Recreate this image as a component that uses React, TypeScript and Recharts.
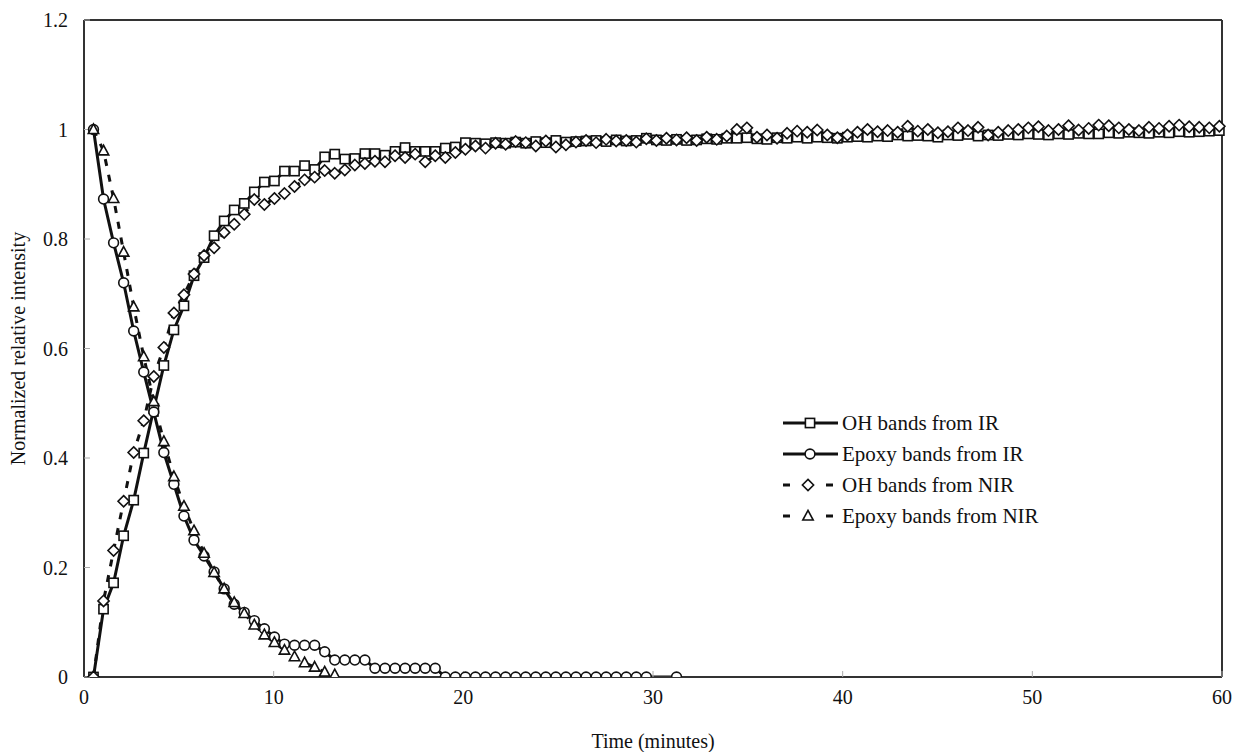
import React from "react";
import { LineChart, Line, XAxis, YAxis, ReferenceLine } from "recharts";

// sampling times (minutes)
const TIMES = [
  0.5, 1.03, 1.56, 2.09, 2.62, 3.15, 3.68, 4.21, 4.74, 5.27,
  5.8, 6.33, 6.86, 7.39, 7.92, 8.45, 8.98, 9.51, 10.04, 10.57,
  11.1, 11.63, 12.16, 12.69, 13.22, 13.75, 14.28, 14.81, 15.34, 15.87,
  16.4, 16.93, 17.46, 17.99, 18.52, 19.05, 19.58, 20.11, 20.64, 21.17,
  21.7, 22.23, 22.76, 23.29, 23.82, 24.35, 24.88, 25.41, 25.94, 26.47,
  27.0, 27.53, 28.06, 28.59, 29.12, 29.65, 30.18, 30.71, 31.24, 31.77,
  32.3, 32.83, 33.36, 33.89, 34.42, 34.95, 35.48, 36.01, 36.54, 37.07,
  37.6, 38.13, 38.66, 39.19, 39.72, 40.25, 40.78, 41.31, 41.84, 42.37,
  42.9, 43.43, 43.96, 44.49, 45.02, 45.55, 46.08, 46.61, 47.14, 47.67,
  48.2, 48.73, 49.26, 49.79, 50.32, 50.85, 51.38, 51.91, 52.44, 52.97,
  53.5, 54.03, 54.56, 55.09, 55.62, 56.15, 56.68, 57.21, 57.74, 58.27,
  58.8, 59.33, 59.86,
];

const OH_IR = [
  0, 0.124, 0.172, 0.258, 0.323, 0.409, 0.49, 0.569, 0.634, 0.678,
  0.733, 0.766, 0.806, 0.833, 0.853, 0.865, 0.886, 0.904, 0.906, 0.924,
  0.924, 0.934, 0.927, 0.95, 0.955, 0.946, 0.947, 0.956, 0.956, 0.953,
  0.96, 0.967, 0.96, 0.96, 0.96, 0.966, 0.968, 0.976, 0.975, 0.974,
  0.976, 0.975, 0.977, 0.975, 0.978, 0.976, 0.98, 0.977, 0.978, 0.979,
  0.98, 0.978, 0.981, 0.979, 0.98, 0.984, 0.981, 0.98, 0.982, 0.98,
  0.981, 0.983, 0.982, 0.984, 0.984, 0.985, 0.983, 0.982, 0.985, 0.984,
  0.986, 0.984, 0.986, 0.985, 0.984, 0.986, 0.987, 0.986, 0.988, 0.987,
  0.99, 0.988, 0.989, 0.988, 0.986, 0.99, 0.989, 0.991, 0.988, 0.99,
  0.989, 0.991, 0.99, 0.992, 0.991, 0.99, 0.992, 0.991, 0.993, 0.992,
  0.992, 0.994, 0.993, 0.995, 0.994, 0.993, 0.995, 0.994, 0.996, 0.995,
  0.996, 0.997, 0.998,
];

const EPOXY_IR = [
  1, 0.873, 0.793, 0.72, 0.632, 0.557, 0.484, 0.41, 0.352, 0.294,
  0.25, 0.221, 0.192, 0.161, 0.133, 0.118, 0.103, 0.088, 0.073, 0.06,
  0.058, 0.058, 0.058, 0.046, 0.031, 0.031, 0.031, 0.031, 0.016, 0.016,
  0.016, 0.016, 0.016, 0.016, 0.016, 0, 0, 0, 0, 0,
  0, 0, 0, 0, 0, 0, 0, 0, 0, 0,
  0, 0, 0, 0, 0, 0, null, null, 0,
];

const OH_NIR = [
  0, 0.139, 0.231, 0.321, 0.41, 0.468, 0.549, 0.602, 0.665, 0.698,
  0.736, 0.77, 0.784, 0.812, 0.827, 0.845, 0.872, 0.863, 0.874, 0.883,
  0.896, 0.908, 0.913, 0.925, 0.92, 0.926, 0.935, 0.938, 0.942, 0.941,
  0.952, 0.949, 0.955, 0.941, 0.952, 0.949, 0.958, 0.964, 0.97, 0.966,
  0.975, 0.973, 0.978, 0.976, 0.97, 0.979, 0.968, 0.972, 0.977, 0.98,
  0.976, 0.982, 0.979, 0.98, 0.977, 0.983, 0.98, 0.984, 0.981, 0.985,
  0.98, 0.986, 0.982, 0.988, 1.0, 1.003, 0.986, 0.99, 0.984, 0.993,
  0.997, 0.995, 0.999, 0.99, 0.985, 0.99, 0.995, 1.0, 0.996, 0.998,
  0.995, 1.006, 0.997, 1.0, 0.994, 0.996, 1.003, 0.998, 1.004, 0.99,
  0.995, 0.998, 1.0, 1.003, 1.005, 0.998, 1.0, 1.007, 0.999, 1.002,
  1.008, 1.007, 1.003, 1.0, 0.998, 1.004, 1.002, 1.006, 1.008, 1.005,
  1.004, 1.003, 1.006,
];

const EPOXY_NIR = [
  1, 0.961, 0.874, 0.776, 0.676, 0.585, 0.503, 0.43, 0.366, 0.312,
  0.267, 0.226, 0.191, 0.161, 0.136, 0.116, 0.095, 0.077, 0.063, 0.049,
  0.037, 0.026, 0.018, 0.009, 0.004, -0.012,
];

const X_TICKS = [0, 10, 20, 30, 40, 50, 60];
const Y_TICKS = [0, 0.2, 0.4, 0.6, 0.8, 1, 1.2];

const LEGEND_ITEMS = [
  { name: "OH bands from IR", marker: "square", dashed: false },
  { name: "Epoxy bands from IR", marker: "circle", dashed: false },
  { name: "OH bands from NIR", marker: "diamond", dashed: true },
  { name: "Epoxy bands from NIR", marker: "triangle", dashed: true },
];

const data = TIMES.map((t, i) => ({
  t,
  ohIR: OH_IR[i] ?? null,
  epIR: EPOXY_IR[i] ?? null,
  ohNIR: OH_NIR[i] ?? null,
  epNIR: EPOXY_NIR[i] ?? null,
}));

const FONT = "'Liberation Serif', 'Times New Roman', serif";
const INK = "#111";

function marker(kind: string, cx: number, cy: number, key?: string) {
  const s = 4.6;
  const common = { fill: "#fff", stroke: INK, strokeWidth: 1.6 };
  if (kind === "square")
    return <rect key={key} x={cx - s} y={cy - s} width={s * 2} height={s * 2} {...common} />;
  if (kind === "circle") return <circle key={key} cx={cx} cy={cy} r={4.9} {...common} />;
  if (kind === "diamond")
    return (
      <polygon
        key={key}
        points={`${cx},${cy - 5.6} ${cx + 5.6},${cy} ${cx},${cy + 5.6} ${cx - 5.6},${cy}`}
        {...common}
      />
    );
  return (
    <polygon
      key={key}
      points={`${cx},${cy - 5.6} ${cx + 5.2},${cy + 4} ${cx - 5.2},${cy + 4}`}
      {...common}
    />
  );
}

const makeDot = (kind: string) => (props: any) => {
  const { cx, cy, value, index } = props;
  if (cx == null || cy == null || value == null || value < 0)
    return <g key={`${kind}-${index}`} />;
  return marker(kind, cx, cy, `${kind}-${index}`);
};

// legend drawn as an overlay so it does not shrink the plot area
const ChartLegend = () => (
  <svg
    width={270}
    height={130}
    style={{ position: "absolute", left: 778, top: 408 }}
  >
    {LEGEND_ITEMS.map((item, i) => {
      const y = 15 + i * 31;
      return (
        <g key={item.name}>
          {item.dashed ? (
            <>
              <line x1={5} x2={12} y1={y} y2={y} stroke={INK} strokeWidth={3} />
              <line x1={48} x2={55} y1={y} y2={y} stroke={INK} strokeWidth={3} />
            </>
          ) : (
            <line x1={5} x2={60} y1={y} y2={y} stroke={INK} strokeWidth={3} />
          )}
          {marker(item.marker, item.dashed ? 30 : 32, y)}
          <text x={64} y={y + 7} fontSize={21} fill="#111" fontFamily={FONT}>
            {item.name}
          </text>
        </g>
      );
    })}
  </svg>
);

export default function App() {
  return (
    <div style={{ position: "absolute", left: 0, top: 0, width: 1233, height: 752, background: "#fff" }}>
      <LineChart
        width={1233}
        height={752}
        data={data}
        margin={{ top: 20, right: 11, bottom: 0, left: 0 }}
        style={{ fontFamily: FONT }}
      >
        <XAxis
          dataKey="t"
          type="number"
          domain={[0, 60]}
          ticks={X_TICKS}
          height={75}
          axisLine={{ stroke: "#333", strokeWidth: 2 }}
          tickLine={{ stroke: "#aaa" }}
          tickSize={-6}
          tickMargin={19}
          tick={{ fill: "#111", fontSize: 20, fontFamily: FONT }}
          label={{
            value: "Time (minutes)",
            position: "insideBottom",
            offset: 4,
            style: { fill: "#111", fontSize: 20, fontFamily: FONT },
          }}
        />
        <YAxis
          type="number"
          domain={[0, 1.2]}
          ticks={Y_TICKS}
          allowDataOverflow
          width={84}
          axisLine={{ stroke: "#333", strokeWidth: 2 }}
          tickLine={{ stroke: "#aaa" }}
          tickSize={-6}
          tickMargin={22}
          tick={{ fill: "#111", fontSize: 20, fontFamily: FONT }}
          label={{
            value: "Normalized relative intensity",
            angle: -90,
            position: "insideLeft",
            offset: 18,
            style: { fill: "#111", fontSize: 20, fontFamily: FONT, textAnchor: "middle" },
          }}
        />
        <ReferenceLine y={1.2} stroke="#333" strokeWidth={2} />
        <ReferenceLine x={60} stroke="#333" strokeWidth={2} />
        <Line
          dataKey="ohIR"
          type="linear"
          stroke={INK}
          strokeWidth={3}
          dot={makeDot("square")}
          activeDot={false}
          isAnimationActive={false}
        />
        <Line
          dataKey="epIR"
          type="linear"
          stroke={INK}
          strokeWidth={3}
          dot={makeDot("circle")}
          activeDot={false}
          connectNulls
          isAnimationActive={false}
        />
        <Line
          dataKey="ohNIR"
          type="linear"
          stroke={INK}
          strokeWidth={3}
          strokeDasharray="7 9"
          dot={makeDot("diamond")}
          activeDot={false}
          isAnimationActive={false}
        />
        <Line
          dataKey="epNIR"
          type="linear"
          stroke={INK}
          strokeWidth={3}
          strokeDasharray="7 9"
          dot={makeDot("triangle")}
          activeDot={false}
          isAnimationActive={false}
        />
      </LineChart>
      <ChartLegend />
    </div>
  );
}
